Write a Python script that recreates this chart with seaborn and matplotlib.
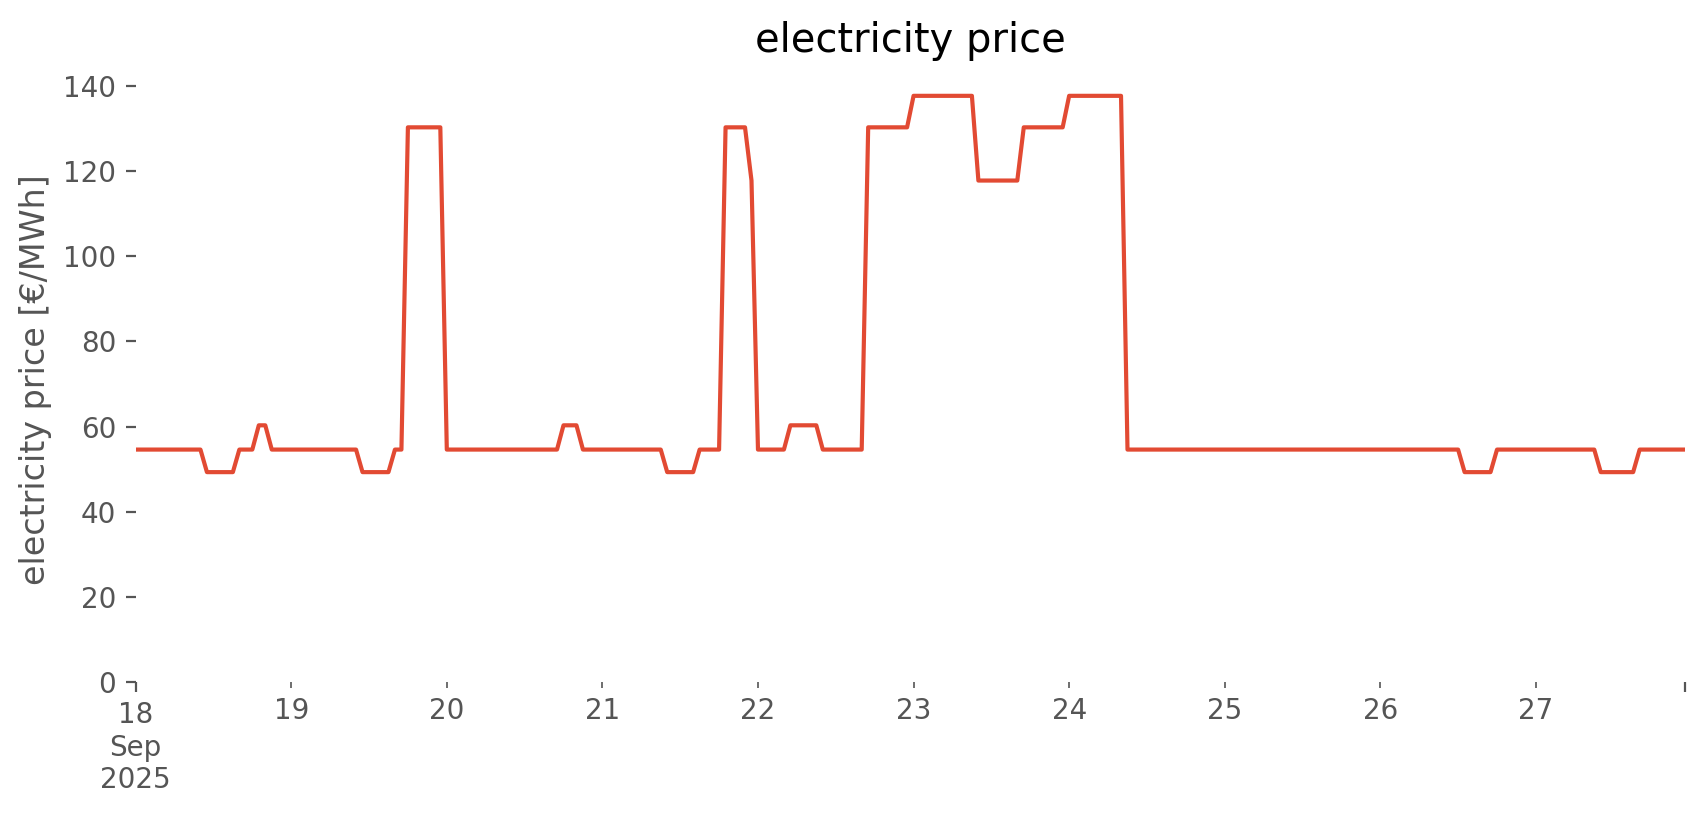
import numpy as np
import pandas as pd
import seaborn as sns
import matplotlib.pyplot as plt
import matplotlib.dates as mdates
from matplotlib.ticker import FixedLocator, FixedFormatter

# hourly price, stored as runs: first hour of each run and its price
run_start_hour = [0, 11, 16, 19, 21, 35, 40, 42, 48, 66, 69, 82, 87, 91, 95, 96,
                  101, 106, 113, 120, 130, 137, 144, 153, 205, 210, 226, 232]
run_price = [54.6, 49.3, 54.6, 60.3, 54.6, 49.3, 54.6, 130.3, 54.6, 60.3, 54.6,
             49.3, 54.6, 130.3, 117.8, 54.6, 60.3, 54.6, 130.3, 137.7, 117.8,
             130.3, 137.7, 54.6, 49.3, 54.6, 49.3, 54.6]
n_hours = 240
start = '2025-09-18 00:00'

run_len = np.diff(run_start_hour + [n_hours])
times = pd.date_range(start, periods=n_hours, freq='h')
df = pd.DataFrame({'time': times, 'price': np.repeat(run_price, run_len)})

plt.style.use('ggplot')
plt.rcParams['axes.facecolor'] = 'white'
plt.rcParams['axes.grid'] = False

fig = plt.figure(figsize=(8.53, 4.075), dpi=200)
ax = fig.add_axes([0.0795, 0.1632, 0.9082, 0.7423])
sns.lineplot(data=df, x='time', y='price', color='#E24A33', linewidth=1.5, ax=ax)
ax.set_xlim(df.time.iloc[0], df.time.iloc[-1])
ax.set_ylim(bottom=0)
for s in ax.spines.values():
    s.set_visible(False)

# pandas-like date ticks
ends = mdates.date2num([df.time.iloc[0], df.time.iloc[-1]])
ax.xaxis.set_major_locator(FixedLocator(ends))
ax.xaxis.set_major_formatter(FixedFormatter(['18\nSep\n2025', '']))
ax.xaxis.set_minor_locator(mdates.DayLocator(bymonthday=range(19, 28)))
ax.xaxis.set_minor_formatter(mdates.DateFormatter('%d'))

ax.set_title('electricity price', pad=9)
ax.set_ylabel('electricity price [€/MWh]')
ax.set_xlabel('')

fig.savefig('out.png', dpi=200)
plt.close(fig)
